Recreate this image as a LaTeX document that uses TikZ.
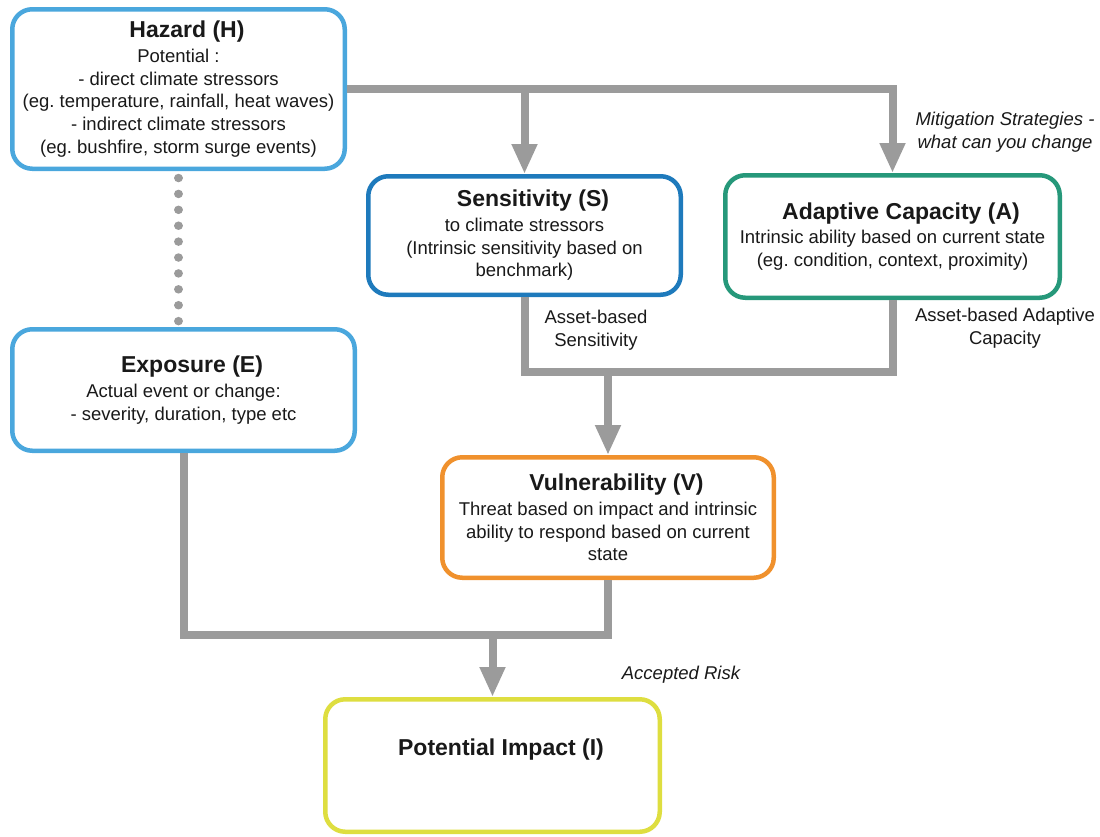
\documentclass[tikz,border=0pt]{standalone}
\usepackage{fontspec}
\setmainfont{Liberation Sans}
\usetikzlibrary{arrows.meta}
\definecolor{hblue}{RGB}{74,167,221}
\definecolor{sblue}{RGB}{30,122,188}
\definecolor{ateal}{RGB}{38,152,122}
\definecolor{vorange}{RGB}{240,145,45}
\definecolor{iyellow}{RGB}{222,222,64}
\definecolor{conngray}{RGB}{155,155,155}
\definecolor{txtcol}{RGB}{25,25,25}
\newcommand{\mybodyfont}{\fontsize{18.5}{22.7}\selectfont}
\newcommand{\myttlfont}{\fontsize{23}{26}\selectfont\bfseries}
\newcommand{\boxtitle}[1]{\hspace*{17pt}{\myttlfont #1}\\[2pt]}
\frenchspacing
\begin{document}
\begin{tikzpicture}[x=1pt,y=-1pt,
  box/.style={draw, line width=4.5pt, rounded corners=20pt, fill=white, align=center,
              inner sep=0pt, text=txtcol, font=\mybodyfont},
  conn/.style={draw=conngray, line width=8pt},
  arr/.style={-{Triangle[width=24pt,length=30pt]}},
  lbl/.style={align=center, text=txtcol, font=\mybodyfont, inner sep=0pt},
]
\useasboundingbox (0,0) rectangle (1100,836);

\node[box, draw=hblue, minimum width=332.5pt, minimum height=159.5pt] (H) at (178.5,89)
  {\boxtitle{Hazard (H)}Potential :\\- direct climate stressors\\(eg. temperature, rainfall, heat waves)\\- indirect climate stressors\\(eg. bushfire, storm surge events)};
\node[box, draw=sblue, minimum width=312.5pt, minimum height=118.5pt] (S) at (524.5,235.5)
  {\boxtitle{Sensitivity (S)}to climate stressors\\(Intrinsic sensitivity based on\\benchmark)};
\node[box, draw=ateal, minimum width=334.5pt, minimum height=122.5pt] (A) at (892.5,236.5)
  {\boxtitle{Adaptive Capacity (A)}Intrinsic ability based on current state\\(eg. condition, context, proximity)};
\node[box, draw=hblue, minimum width=342.5pt, minimum height=121.5pt] (E) at (183.5,390)
  {\boxtitle{Exposure (E)}Actual event or change:\\- severity, duration, type etc};
\node[box, draw=vorange, minimum width=331.5pt, minimum height=120.5pt] (V) at (608,517.5)
  {\boxtitle{Vulnerability (V)}Threat based on impact and intrinsic\\ability to respond based on current\\state};
\node[box, draw=iyellow, minimum width=334.5pt, minimum height=132.5pt] (I) at (492.5,765.5) {};
\node[lbl, font=\myttlfont] (It) at (501,750) {Potential Impact (I)};

\node[lbl, font=\mybodyfont\itshape] (mit) at (1005,132) {Mitigation Strategies -\\what can you change};
\node[lbl] (asens) at (596,330) {Asset-based\\Sensitivity};
\node[lbl] (aadap) at (1005,328) {Asset-based Adaptive\\Capacity};
\node[lbl, font=\mybodyfont\itshape] (risk) at (681,675) {Accepted Risk};

\coordinate (svj) at (0,372);
\coordinate (evj) at (0,635);

% hazard to sensitivity and adaptive capacity
\draw[conn, arr] (H.east) -- (H.east -| A.north) -- (A.north);
\draw[conn, arr] (H.east -| S.north) -- (S.north);

% sensitivity + adaptive capacity to vulnerability
\draw[conn] (S.south) |- (A.south |- svj) -- (A.south);
\draw[conn, arr] (V.north |- svj) -- (V.north);

% exposure + vulnerability to impact
\draw[conn] (E.south) |- (V.south |- evj) -- (V.south);
\draw[conn, arr] (I.north |- evj) -- (I.north);

% dotted hazard to exposure
\draw[conngray, line width=8.5pt, line cap=round, dash pattern=on 0.01pt off 15.89pt]
  ([yshift=-7pt]H.south) -- (H.south |- E.north);
\end{tikzpicture}
\end{document}
